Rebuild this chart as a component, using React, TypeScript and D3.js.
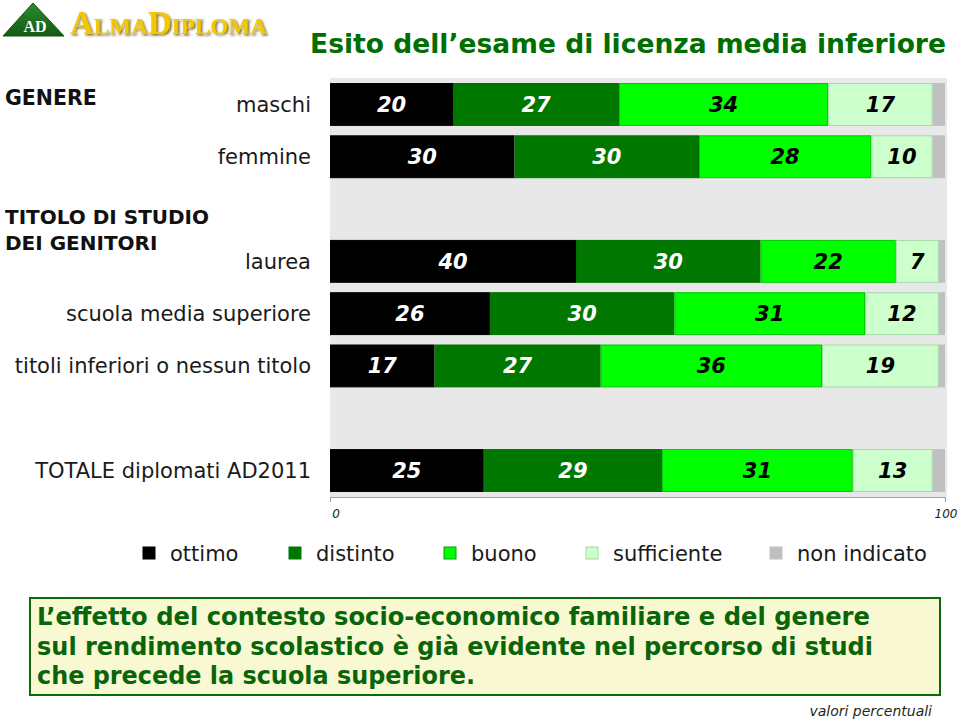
import React from "react";
import * as d3 from "d3";

const categories = [
  "maschi",
  "femmine",
  "laurea",
  "scuola media superiore",
  "titoli inferiori o nessun titolo",
  "TOTALE diplomati AD2011",
];
// band slots incl. empty spacer rows between groups
const rowSlots = [
  "maschi",
  "femmine",
  "__gap1",
  "laurea",
  "scuola media superiore",
  "titoli inferiori o nessun titolo",
  "__gap2",
  "TOTALE diplomati AD2011",
];
const seriesNames = ["ottimo", "distinto", "buono", "sufficiente", "non indicato"];
const ottimo = [20, 30, 40, 26, 17, 25];
const distinto = [27, 30, 30, 30, 27, 29];
const buono = [34, 28, 22, 31, 36, 31];
const sufficiente = [17, 10, 7, 12, 19, 13];
const nonIndicato = [2, 2, 1, 1, 1, 2];
const axisTicks = [0, 100];

const seriesColors = ["#000000", "#007800", "#00FF00", "#CCFFCC", "#C0C0C0"];
const seriesStrokes = ["#000000", "#006E00", "#00C800", "#A6D9A6", "#C0C0C0"];
const labelColors = ["#FFFFFF", "#FFFFFF", "#000000", "#000000", "none"];

const title = "Esito dell\u2019esame di licenza media inferiore";
const noteLines = [
  "L\u2019effetto del contesto socio-economico familiare e del genere",
  "sul rendimento scolastico è già evidente nel percorso di studi",
  "che precede la scuola superiore.",
];
const noteWidths = [833, 836, 438];

export default function App() {
  const W = 960;
  const H = 722;
  const x0 = 330;
  const x1 = 945;
  const yTop = 78;
  const yBot = 497;

  const x = d3.scaleLinear().domain([0, 100]).range([x0, x1]);
  const y = d3
    .scaleBand<string>()
    .domain(rowSlots)
    .range([yTop, yBot])
    .paddingInner(0.18)
    .paddingOuter(0.096);

  const table = categories.map((c, i) => ({
    cat: c,
    ottimo: ottimo[i],
    distinto: distinto[i],
    buono: buono[i],
    sufficiente: sufficiente[i],
    "non indicato": nonIndicato[i],
  }));
  const stacked = d3.stack<any>().keys(seriesNames)(table);

  const labelFont = "'DejaVu Sans', Verdana, sans-serif";
  const condFont = "'DejaVu Sans Condensed', Tahoma, 'DejaVu Sans', sans-serif";

  const legendX = [143, 289, 444, 586, 770];

  return (
    <svg
      width={W}
      height={H}
      style={{ position: "absolute", left: 0, top: 0, background: "#fff" }}
    >
      <defs>
        <filter id="logoShadow" x="-5%" y="-20%" width="115%" height="150%">
          <feDropShadow dx="1.5" dy="1.5" stdDeviation="0.8" floodColor="#6B5200" floodOpacity="0.9" />
        </filter>
        <linearGradient id="triGrad" x1="0" y1="0" x2="0" y2="1">
          <stop offset="0" stopColor="#2E8B2E" />
          <stop offset="1" stopColor="#145A14" />
        </linearGradient>
      </defs>

      {/* Logo */}
      <g>
        <path d="M33,3 L64,36 L3,36 Z" fill="url(#triGrad)" stroke="#0F4F0F" strokeWidth={1} />
        <text
          x={35}
          y={32}
          textAnchor="middle"
          fontFamily="'Liberation Serif', 'DejaVu Serif', serif"
          fontWeight="bold"
          fontSize={16}
          fill="#FFFFFF"
        >
          AD
        </text>
        <text
          x={70}
          y={34}
          fontFamily="'Liberation Serif', 'DejaVu Serif', serif"
          fontWeight="bold"
          fill="#F4C800"
          filter="url(#logoShadow)"
          textLength={197}
          lengthAdjust="spacingAndGlyphs"
        >
          <tspan fontSize={34}>A</tspan>
          <tspan fontSize={24}>LMA</tspan>
          <tspan fontSize={34}>D</tspan>
          <tspan fontSize={24}>IPLOMA</tspan>
        </text>
      </g>

      {/* Title */}
      <text
        x={310}
        y={53}
        fontFamily={condFont}
        fontWeight="bold"
        fontSize={26}
        fill="#006E00"
        textLength={636}
        lengthAdjust="spacingAndGlyphs"
      >
        {title}
      </text>

      {/* Plot background */}
      <rect x={x0} y={yTop} width={x1 - x0 + 2} height={yBot - yTop} fill="#E8E8E8" />

      {/* Bars */}
      {stacked.map((layer, si) => (
        <g key={layer.key}>
          {layer.map((d: any, i: number) => {
            const yy = y(categories[i]) as number;
            const w = x(d[1]) - x(d[0]);
            return (
              <g key={i}>
                <rect
                  x={x(d[0]) + 0.5}
                  y={yy + 0.5}
                  width={Math.max(0, w - 1)}
                  height={y.bandwidth() - 1}
                  fill={seriesColors[si]}
                  stroke={seriesStrokes[si]}
                  strokeWidth={1}
                />
                {si < 4 && (
                  <text
                    x={(x(d[0]) + x(d[1])) / 2}
                    y={yy + y.bandwidth() / 2 + 7.5}
                    textAnchor="middle"
                    fontFamily={labelFont}
                    fontWeight="bold"
                    fontStyle="italic"
                    fontSize={21}
                    fill={labelColors[si]}
                  >
                    {d[1] - d[0]}
                  </text>
                )}
              </g>
            );
          })}
        </g>
      ))}

      {/* Category labels */}
      {categories.map((c, i) => (
        <text
          key={c}
          x={311}
          y={(y(c) as number) + y.bandwidth() / 2 + 7.5}
          textAnchor="end"
          fontFamily={labelFont}
          fontSize={21}
          fill="#1a1a1a"
        >
          {c}
        </text>
      ))}

      {/* Group headers */}
      <text x={5} y={105} fontFamily={labelFont} fontWeight="bold" fontSize={20.5} fill="#111">
        GENERE
      </text>
      <text x={5} y={224} fontFamily={labelFont} fontWeight="bold" fontSize={20} fill="#111">
        TITOLO DI STUDIO
      </text>
      <text x={5} y={250} fontFamily={labelFont} fontWeight="bold" fontSize={20} fill="#111">
        DEI GENITORI
      </text>

      {/* Axis */}
      <line x1={x0} x2={x1} y1={yBot + 0.5} y2={yBot + 0.5} stroke="#A0A0A0" strokeWidth={1} />
      {axisTicks.map((t) => (
        <g key={t}>
          <line x1={x(t) + 0.5} x2={x(t) + 0.5} y1={yBot} y2={yBot + 5} stroke="#A0A0A0" />
          <text
            x={x(t) + (t === 0 ? 6 : 1)}
            y={518}
            textAnchor="middle"
            fontFamily={labelFont}
            fontStyle="italic"
            fontSize={12}
            fill="#222"
          >
            {t}
          </text>
        </g>
      ))}

      {/* Legend */}
      {seriesNames.map((s, i) => (
        <g key={s}>
          <rect
            x={legendX[i]}
            y={547}
            width={12}
            height={12}
            fill={seriesColors[i]}
            stroke={i === 3 ? "#A6D9A6" : i === 2 ? "#00A000" : seriesColors[i]}
            strokeWidth={1}
          />
          <text x={legendX[i] + 27} y={561} fontFamily={labelFont} fontSize={21} fill="#1a1a1a">
            {s}
          </text>
        </g>
      ))}

      {/* Note box */}
      <rect x={30} y={598} width={910} height={97} fill="#F8F9D2" stroke="#0B6B0B" strokeWidth={2} />
      {noteLines.map((l, i) => (
        <text
          key={i}
          x={37}
          y={625 + i * 29.5}
          fontFamily={condFont}
          fontWeight="bold"
          fontSize={24}
          fill="#0A650A"
          textLength={noteWidths[i]}
          lengthAdjust="spacingAndGlyphs"
        >
          {l}
        </text>
      ))}

      <text
        x={932}
        y={716}
        textAnchor="end"
        fontFamily={labelFont}
        fontStyle="italic"
        fontSize={14}
        fill="#1a2a1a"
      >
        valori percentuali
      </text>
    </svg>
  );
}
